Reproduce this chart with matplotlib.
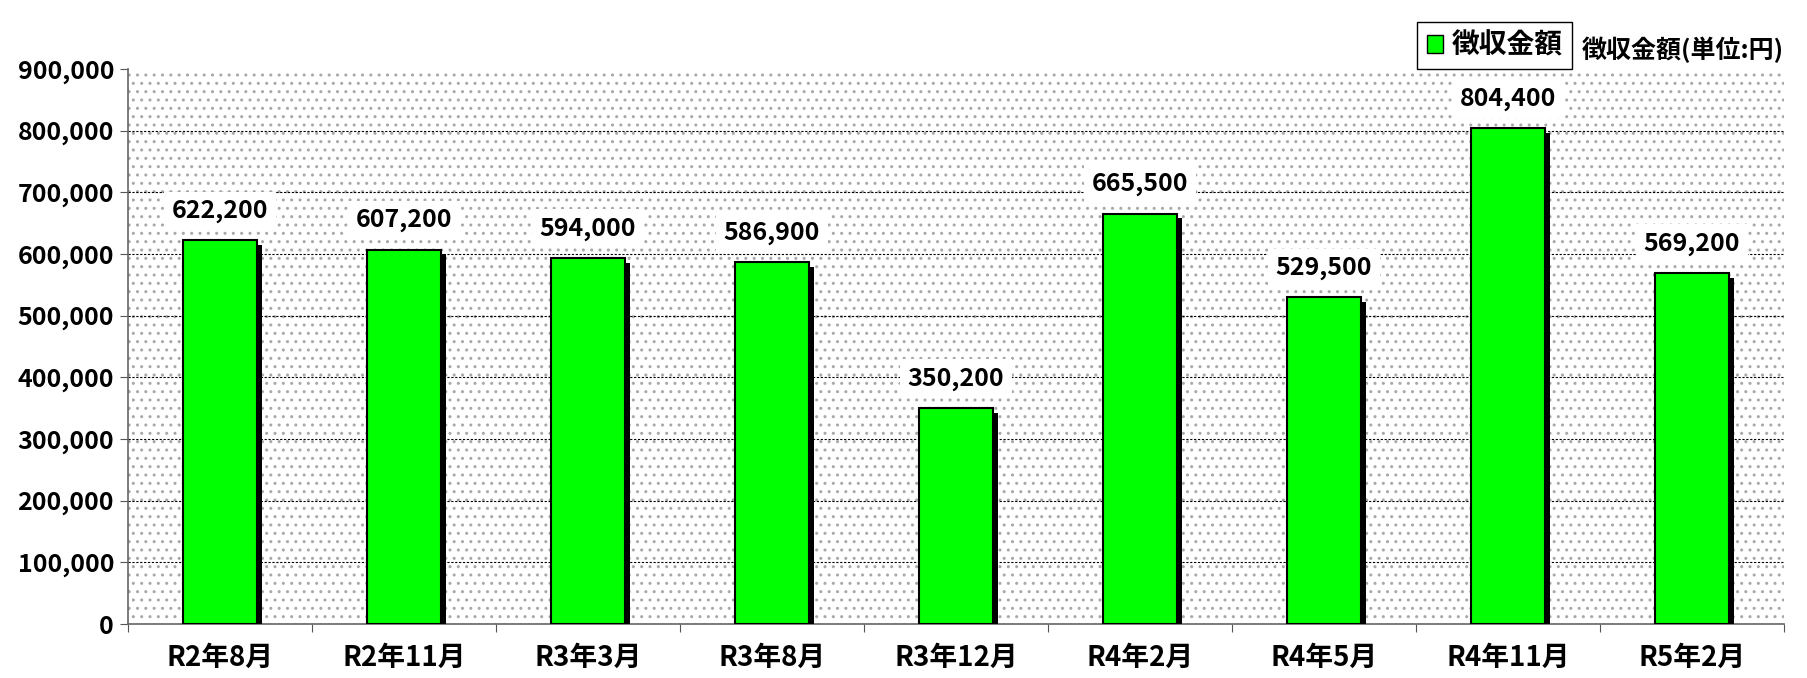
import numpy as np
import matplotlib
matplotlib.use("Agg")
import matplotlib.pyplot as plt
import matplotlib.patheffects as pe
from matplotlib.patches import Rectangle

plt.rcParams['font.family'] = ['Noto Sans CJK JP', 'DejaVu Sans']
plt.rcParams['font.weight'] = 'bold'
plt.rcParams['hatch.color'] = '#a8a8a8'
plt.rcParams['hatch.linewidth'] = 1.0

# data
months = ['R2年8月', 'R2年11月', 'R3年3月', 'R3年8月', 'R3年12月',
          'R4年2月', 'R4年5月', 'R4年11月', 'R5年2月']
amounts = [622200, 607200, 594000, 586900, 350200, 665500, 529500, 804400, 569200]
yticks = np.arange(0, 900001, 100000)

fig = plt.figure(figsize=(18.07, 6.78), dpi=100)
ax = fig.add_axes([0.0708, 0.0796, 0.9165, 0.8186])

n = len(months)
x = np.arange(n)
ax.set_xlim(-0.5, n - 0.5)
ax.set_ylim(0, 900000)

# dotted background pattern
bg = Rectangle((0, 0), 1, 1, transform=ax.transAxes, facecolor='white',
               edgecolor='#a8a8a8', hatch='..', linewidth=0, zorder=0)
ax.add_patch(bg)

for v in yticks[1:-1]:
    ax.axhline(v, color='black', lw=0.8, ls=(0, (2, 1.5)), zorder=1)

bars = ax.bar(x, amounts, width=0.4, color='#00ff00', edgecolor='black',
              linewidth=1.5, zorder=3, label='徴収金額')
for b in bars:
    b.set_path_effects([pe.SimplePatchShadow(offset=(3.5, -3.5), shadow_rgbFace='black', alpha=1.0),
                        pe.Normal()])

for xi, v in zip(x, amounts):
    ax.annotate(f'{v:,}', (xi, v), xytext=(0, 21), textcoords='offset points',
                ha='center', va='center', fontsize=18, fontweight='bold',
                bbox=dict(boxstyle='square,pad=0.3', fc='white', ec='none'), zorder=4)

ax.set_yticks(yticks)
ax.set_yticklabels([f'{v:,}' for v in yticks], fontsize=18, fontweight='bold')
ax.set_xticks(np.arange(n + 1) - 0.5)
ax.set_xticklabels([])
ax.set_xticks(x, minor=True)
ax.set_xticklabels(months, minor=True, fontsize=20, fontweight='bold')
ax.tick_params(axis='x', which='minor', length=0, pad=14)
ax.tick_params(axis='x', which='major', length=6, color='#555555', direction='out')
ax.tick_params(axis='y', length=6, color='#555555', pad=4)

for s in ['top', 'right']:
    ax.spines[s].set_visible(False)
for s in ['left', 'bottom']:
    ax.spines[s].set_color('#666666')
    ax.spines[s].set_linewidth(1.2)

leg = fig.legend(handles=[bars], labels=['徴収金額'], loc='upper left',
                 bbox_to_anchor=(1403 / 1807, 1 - 8 / 678),
                 prop={'weight': 'bold', 'size': 20}, handlelength=0.6, handleheight=0.6,
                 handletextpad=0.3, borderpad=0.35, fancybox=False, framealpha=1,
                 edgecolor='black')
leg.get_frame().set_linewidth(1.0)
for h in leg.legend_handles:
    h.set_path_effects([])
    h.set_linewidth(1.0)

fig.text(1582 / 1807, 1 - 50 / 678, '徴収金額(単位:円)', fontsize=18,
         fontweight='bold', ha='left', va='center')

fig.savefig('out.png', dpi=100)
